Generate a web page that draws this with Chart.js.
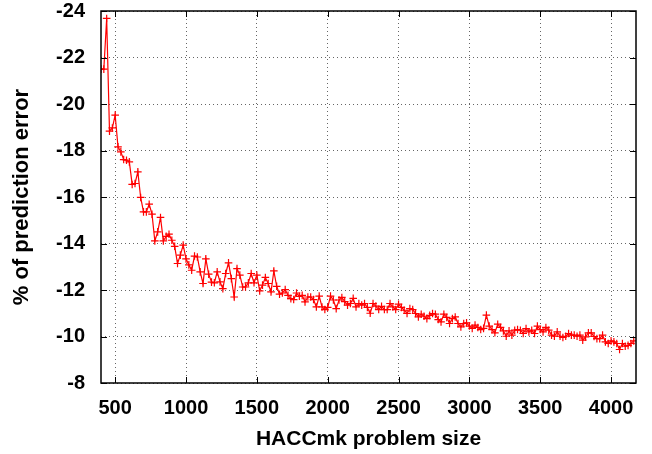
<!DOCTYPE html>
<html>
<head>
<meta charset="utf-8">
<script src="https://cdn.jsdelivr.net/npm/chart.js@4/dist/chart.umd.min.js"></script>
<style>
  html, body { margin: 0; padding: 0; background: #fff; }
  #wrap { width: 652px; height: 454px; }
</style>
</head>
<body>
<div id="wrap"><canvas id="errChart" width="652" height="454"></canvas></div>
<script>
// problem sizes (x)
const problemSizes = [
    400, 420, 440, 460, 480, 500, 520, 540, 560, 580, 600, 620, 640, 660, 680, 700, 720, 740, 760, 780,
    800, 820, 840, 860, 880, 900, 920, 940, 960, 980, 1000, 1020, 1040, 1060, 1080, 1100, 1120, 1140, 1160, 1180,
    1200, 1220, 1240, 1260, 1280, 1300, 1320, 1340, 1360, 1380, 1400, 1420, 1440, 1460, 1480, 1500, 1520, 1540, 1560, 1580,
    1600, 1620, 1640, 1660, 1680, 1700, 1720, 1740, 1760, 1780, 1800, 1820, 1840, 1860, 1880, 1900, 1920, 1940, 1960, 1980,
    2000, 2020, 2040, 2060, 2080, 2100, 2120, 2140, 2160, 2180, 2200, 2220, 2240, 2260, 2280, 2300, 2320, 2340, 2360, 2380,
    2400, 2420, 2440, 2460, 2480, 2500, 2520, 2540, 2560, 2580, 2600, 2620, 2640, 2660, 2680, 2700, 2720, 2740, 2760, 2780,
    2800, 2820, 2840, 2860, 2880, 2900, 2920, 2940, 2960, 2980, 3000, 3020, 3040, 3060, 3080, 3100, 3120, 3140, 3160, 3180,
    3200, 3220, 3240, 3260, 3280, 3300, 3320, 3340, 3360, 3380, 3400, 3420, 3440, 3460, 3480, 3500, 3520, 3540, 3560, 3580,
    3600, 3620, 3640, 3660, 3680, 3700, 3720, 3740, 3760, 3780, 3800, 3820, 3840, 3860, 3880, 3900, 3920, 3940, 3960, 3980,
    4000, 4020, 4040, 4060, 4080, 4100, 4120, 4140, 4160
];

// % of prediction error in pieces
const errStart = [-21.5, -21.5, -23.68, -18.83, -18.97, -19.52, -18.16, -17.94, -17.61, -17.58, -17.51, -16.54, -16.58,
    -17.08, -15.98, -15.36, -15.36, -15.69, -15.26, -14.11, -14.5, -15.12, -14.11, -14.31, -14.4];
const err900 = [-14.14, -13.88, -13.14, -13.50, -13.93, -13.34, -13.08, -12.85, -13.46, -13.42, -12.78, -12.28, -13.34,
    -12.68, -12.34, -12.31, -12.78, -12.35, -12.06, -12.71, -13.17, -12.49, -11.70, -12.92, -12.64];
const err1400 = [-12.13, -12.13, -12.31, -12.71, -12.31, -12.64, -11.96, -12.21, -12.54, -12.28, -11.92, -12.82, -12.16,
    -11.82, -11.87, -12.02, -11.77, -11.63, -11.59, -11.87, -11.73, -11.77, -11.49, -11.70, -11.70];
const err1900 = [-11.59, -11.27, -11.74, -11.27, -11.16, -11.25, -11.74, -11.57, -11.2, -11.57, -11.68, -11.5, -11.35,
    -11.42, -11.64, -11.27, -11.42, -11.35, -11.42, -11.25, -11.0, -11.42, -11.31, -11.16];
const err2380 = [-11.3, -11.16, -11.16, -11.42, -11.27, -11.16, -11.39, -11.25, -11.13, -10.99, -11.2, -11.16, -10.99,
    -10.84, -10.96, -10.87, -10.77, -10.91, -10.99, -10.96, -10.73, -10.63, -10.96, -10.82, -10.56];
const err2880 = [-10.77, -10.84, -10.56, -10.41, -10.56, -10.59, -10.45, -10.35, -10.49, -10.39, -10.3, -10.35, -10.92,
    -10.45, -10.3, -10.16, -10.53, -10.39, -10.24, -10.01, -10.24, -10.06, -10.27, -10.3];
const err3360 = [-10.27, -10.13, -10.34, -10.2, -10.27, -10.13, -10.45, -10.3, -10.2, -10.39, -10.27, -10.06, -10.01,
    -10.2, -10.01, -9.96, -10.01, -10.13, -10.06, -10.06, -10.01, -10.06, -9.84, -9.98, -10.16];
const errEnd = [-10.16, -10.0, -9.91, -9.91, -10.06, -9.77, -9.7, -9.81, -9.77, -9.7, -9.44, -9.7, -9.58, -9.62, -9.7, -9.81];

const xTicks = [500, 1000, 1500, 2000, 2500, 3000, 3500, 4000];
const yTicks = [-24, -22, -20, -18, -16, -14, -12, -10, -8];

const errValues = [].concat(errStart, err900, err1400, err1900, err2380, err2880, err3360, errEnd);
const points = problemSizes.map(function(s, i) { return { x: s, y: errValues[i] }; });

const FONT = "'Liberation Sans', Arial, sans-serif";

// black frame with gnuplot-style inward tick marks on all four sides
const framePlugin = {
    id: 'frame',
    afterDatasetsDraw: function(chart) {
        const ctx = chart.ctx;
        const a = chart.chartArea;
        const xs = chart.scales.x, ys = chart.scales.y;
        const len = 6;
        ctx.save();
        ctx.strokeStyle = '#000';
        ctx.lineWidth = 1;
        ctx.beginPath();
        xTicks.forEach(function(t) {
            const px = Math.round(xs.getPixelForValue(t)) + 0.5;
            ctx.moveTo(px, a.bottom); ctx.lineTo(px, a.bottom - len);
            ctx.moveTo(px, a.top); ctx.lineTo(px, a.top + len);
        });
        yTicks.forEach(function(t) {
            const py = Math.round(ys.getPixelForValue(t)) + 0.5;
            ctx.moveTo(a.left, py); ctx.lineTo(a.left + len, py);
            ctx.moveTo(a.right, py); ctx.lineTo(a.right - len, py);
        });
        ctx.stroke();
        ctx.lineWidth = 1.5;
        ctx.strokeRect(a.left, a.top, a.right - a.left, a.bottom - a.top);
        ctx.restore();
    }
};

const ctx = document.getElementById('errChart').getContext('2d');
new Chart(ctx, {
    type: 'line',
    data: {
        datasets: [{
            data: points,
            borderColor: '#ff0000',
            borderWidth: 1.2,
            pointStyle: 'cross',
            pointRadius: 3.8,
            pointBorderWidth: 1.2,
            pointBorderColor: '#ff0000',
            fill: false,
            tension: 0
        }]
    },
    options: {
        responsive: false,
        animation: false,
        layout: { padding: { top: 11, right: 16, left: 0, bottom: 0 } },
        plugins: { legend: { display: false }, tooltip: { enabled: false } },
        scales: {
            x: {
                type: 'linear',
                min: 400,
                max: 4176,
                afterBuildTicks: function(scale) {
                    scale.ticks = xTicks.map(function(v) { return { value: v }; });
                },
                afterFit: function(scale) {
                    scale.height = 71;
                    scale.paddingLeft = 0;
                    scale.paddingRight = 0;
                },
                grid: { color: 'rgba(0,0,0,0.6)', lineWidth: 1, drawTicks: false },
                border: { display: false, dash: [1, 3] },
                ticks: {
                    color: '#000',
                    padding: 13,
                    maxRotation: 0,
                    callback: function(v) { return String(v); },
                    font: { family: FONT, size: 20, weight: 'bold' }
                },
                title: {
                    display: true,
                    text: 'HACCmk problem size',
                    color: '#000',
                    padding: { top: 0, bottom: 2 },
                    font: { family: FONT, size: 21, weight: 'bold' }
                }
            },
            y: {
                min: -24,
                max: -8,
                reverse: true,
                afterBuildTicks: function(scale) {
                    scale.ticks = yTicks.map(function(v) { return { value: v }; });
                },
                afterFit: function(scale) {
                    scale.width = 101;
                    scale.paddingTop = 0;
                    scale.paddingBottom = 0;
                },
                grid: { color: 'rgba(0,0,0,0.6)', lineWidth: 1, drawTicks: false },
                border: { display: false, dash: [1, 3] },
                ticks: {
                    color: '#000',
                    padding: 16,
                    callback: function(v) { return String(v); },
                    font: { family: FONT, size: 20, weight: 'bold' }
                },
                title: {
                    display: true,
                    text: '% of prediction error',
                    color: '#000',
                    padding: { top: 9, bottom: 0 },
                    font: { family: FONT, size: 22, weight: 'bold' }
                }
            }
        }
    },
    plugins: [framePlugin]
});
</script>
</body>
</html>
